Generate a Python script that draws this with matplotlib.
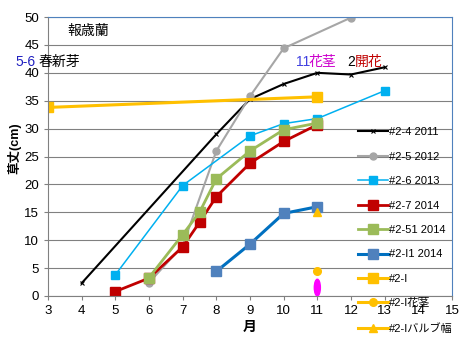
import matplotlib.pyplot as plt
from matplotlib.patches import Ellipse

plt.rcParams['font.family'] = ['Liberation Sans', 'Noto Sans CJK JP', 'DejaVu Sans']

# month / plant height (cm)
m_24 = [4, 8, 9, 10, 11, 12, 13]
h_24 = [2.3, 29, 35.3, 38, 40, 39.7, 41]
m_25 = [6, 7, 8, 9, 10, 12]
h_25 = [2.4, 9, 26, 35.8, 44.4, 49.9]
m_26 = [5, 7, 9, 10, 11, 13]
h_26 = [3.8, 19.8, 28.7, 30.9, 31.8, 36.8]
m_27 = [5, 6, 7, 7.5, 8, 9, 10, 11]
h_27 = [0.8, 3.2, 8.8, 13.2, 17.8, 23.8, 27.7, 30.7]
m_251 = [6, 7, 7.5, 8, 9, 10, 11]
h_251 = [3.3, 11, 15, 21, 26, 29.8, 31]
m_i1 = [8, 9, 10, 11]
h_i1 = [4.4, 9.3, 14.8, 16]
m_i = [3, 11]
h_i = [33.8, 35.7]
m_stem = [11]
h_stem = [4.5]
m_bulb = [11]
h_bulb = [15]

fig = plt.figure(figsize=(4.68, 3.41), dpi=100)
ax = fig.add_axes([0.1026, 0.132, 0.8632, 0.818])

ax.plot(m_24, h_24, color='black', lw=1.5, marker='x', ms=3, mew=0.8, label='#2-4 2011')
ax.plot(m_25, h_25, color='#A6A6A6', lw=1.5, marker='o', ms=5, label='#2-5 2012')
ax.plot(m_26, h_26, color='#00B0F0', lw=1.1, marker='s', ms=5.5, label='#2-6 2013')
ax.plot(m_27, h_27, color='#C00000', lw=2, marker='s', ms=6.5, label='#2-7 2014')
ax.plot(m_251, h_251, color='#9BBB59', lw=2, marker='s', ms=6.5, label='#2-51 2014')
ax.plot(m_i1, h_i1, color='#0070C0', lw=2.2, marker='s', ms=6.5, mfc='#4F81BD', mec='#4F81BD', label='#2-I1 2014')
ax.plot(m_i, h_i, color='#FFC000', lw=2.2, marker='s', ms=6.5, label='#2-I')
ax.plot(m_stem, h_stem, color='#FFC000', lw=2.2, marker='o', ms=5.5, label='#2-I花茎')
ax.plot(m_bulb, h_bulb, color='#FFC000', lw=2.2, marker='^', ms=6, label='#2-Iバルブ幅')

ax.add_patch(Ellipse((11, 1.5), 0.18, 3.0, color='#FF00FF', zorder=5))

ax.set_xlim(3, 15)
ax.set_ylim(0, 50)
ax.set_xticks(range(3, 16))
ax.set_yticks(range(0, 51, 5))
ax.tick_params(labelsize=9.5, length=3, color='#808080')
ax.grid(axis='y', color='#808080', lw=0.8)
ax.set_axisbelow(True)
for s in ['left', 'bottom']:
    ax.spines[s].set_color('#808080')
for s in ['top', 'right']:
    ax.spines[s].set_color('#4F81BD')
    ax.spines[s].set_linewidth(0.8)

ax.set_xlabel('月', fontsize=10, fontweight='bold', labelpad=2)
ax.set_ylabel('草丈(cm)', fontsize=9, fontweight='bold')
ax.yaxis.set_label_coords(-0.065, 0.53)

fig.text(0.143, 0.91, '報歳蘭', fontsize=10, va='center')
fig.text(0.032, 0.818, '5-6', fontsize=10, color='#2020C0', va='center')
fig.text(0.082, 0.818, '春新芽', fontsize=10, va='center')
fig.text(0.632, 0.818, '11', fontsize=10, color='#4040E0', va='center')
fig.text(0.660, 0.818, '花茎', fontsize=10, color='#CC00CC', va='center')
fig.text(0.743, 0.818, '2', fontsize=10, va='center')
fig.text(0.759, 0.818, '開花', fontsize=10, color='#C00000', va='center')

leg = ax.legend(loc='upper left', bbox_to_anchor=(0.755, 0.64), bbox_transform=fig.transFigure,
                frameon=False, fontsize=8, labelspacing=1.3, handlelength=2.7,
                handletextpad=0.1, borderaxespad=0)

fig.savefig('out.png', dpi=100)
